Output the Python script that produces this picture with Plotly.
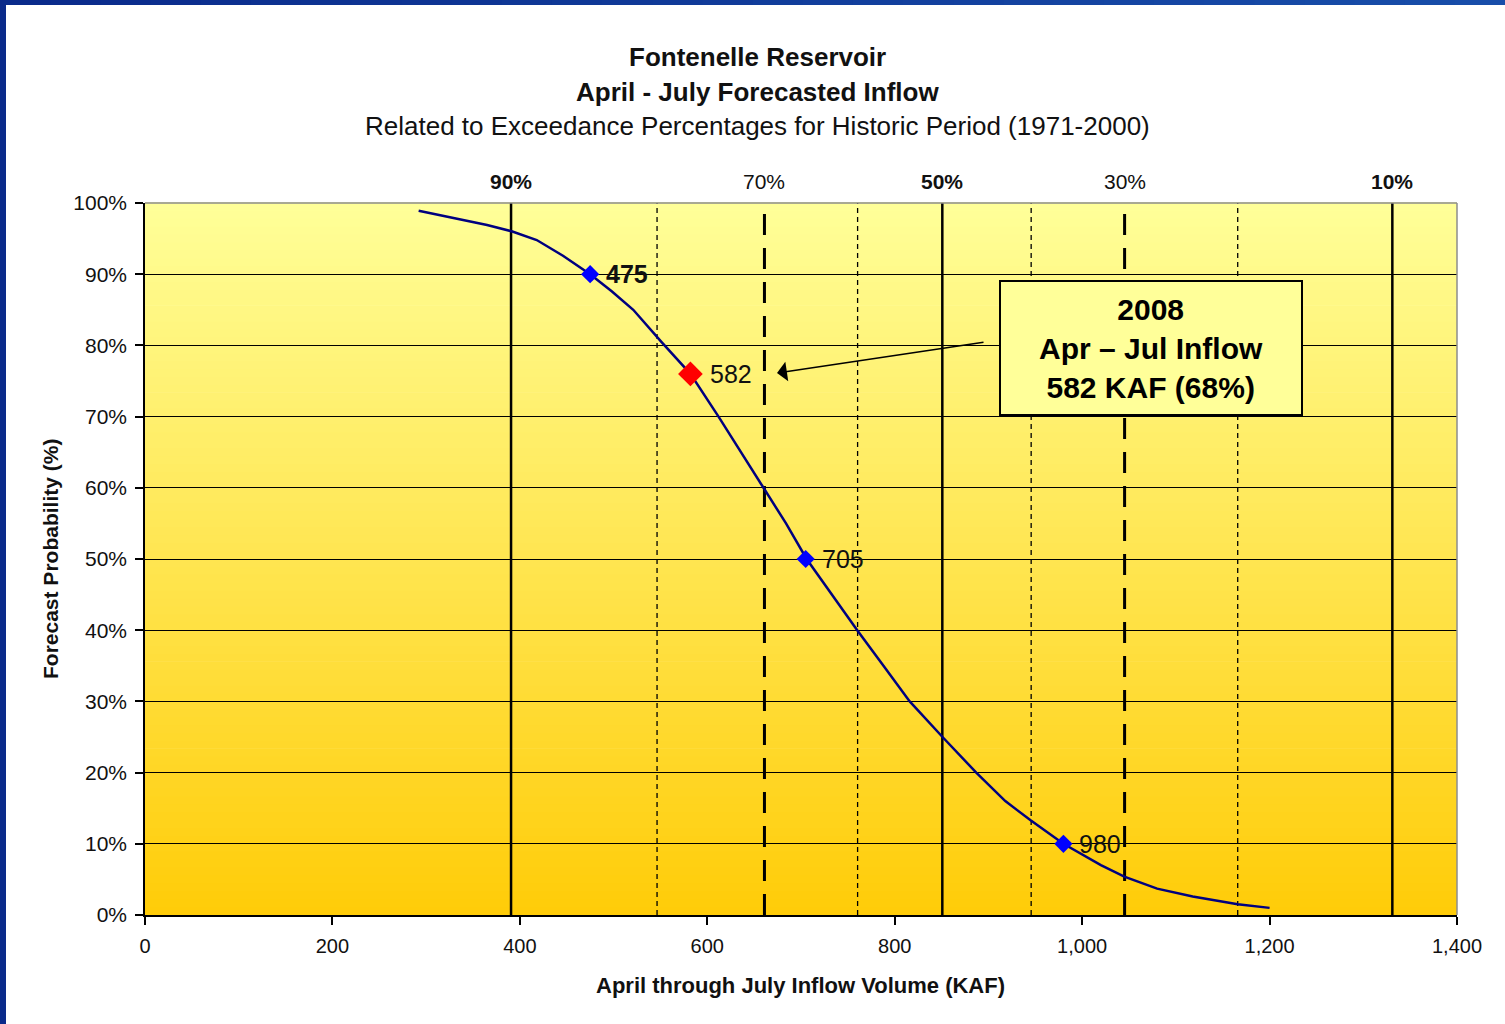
import plotly.graph_objects as go

# ---------------- data ----------------
curve_kaf = [292, 340, 365, 392, 418, 446, 475, 498, 521, 551, 582, 612, 636, 660, 684, 706,
             733, 760, 788, 816, 851, 887, 918, 945, 980, 1020, 1045, 1080, 1118, 1166, 1200]
curve_pct = [98.9, 97.6, 96.9, 96.0, 94.8, 92.6, 90, 87.6, 85.0, 80.5, 76, 70, 65, 60, 55, 50,
             45, 40, 35, 30, 25, 20, 16, 13.3, 10, 7.0, 5.4, 3.7, 2.6, 1.5, 1.0]

point_kaf = [475, 705, 980]
point_pct = [90, 50, 10]
point_lbl = ["<b>475</b>", "705", "980"]

current_kaf = [582]
current_pct = [76]
current_lbl = ["582"]

# historic exceedance levels (KAF) and their labels
exc_solid_kaf = [390.6, 850.8, 1331]
exc_solid_lbl = ["<b>90%</b>", "<b>50%</b>", "<b>10%</b>"]
exc_dash_kaf = [661, 1045.3]
exc_dash_lbl = ["70%", "30%"]
exc_dot_kaf = [546.4, 760.4, 945.6, 1166]

y_ticks = list(range(0, 101, 10))
y_tick_text = [f"{v}%" for v in y_ticks]
x_ticks = list(range(0, 1401, 200))

FONT = "Liberation Sans, Arial, sans-serif"

# plot-area geometry in page pixels (used only for placing decorations)
L, R, T, B = 145, 1457, 203, 915
PW, PH = R - L, B - T


def px_x(px):
    return (px - L) / PW


def px_y(py):
    return (B - py) / PH


fig = go.Figure()

# background gradient bands (below grid)
N = 90
top = (255, 255, 153)
bot = (255, 204, 8)
shapes = []
for i in range(N):
    t = (i + 0.5) / N
    c = tuple(round(bot[k] + (top[k] - bot[k]) * t) for k in range(3))
    shapes.append(dict(type="rect", xref="paper", yref="paper",
                       x0=0, x1=1, y0=i / N, y1=(i + 1) / N + 0.001,
                       fillcolor="rgb(%d,%d,%d)" % c, line=dict(width=0), layer="below"))

# gray top/right frame
shapes.append(dict(type="line", xref="paper", yref="paper", x0=0, x1=1, y0=1, y1=1,
                   line=dict(color="#8c8c8c", width=1.5), layer="above"))
shapes.append(dict(type="line", xref="paper", yref="paper", x0=1, x1=1, y0=0, y1=1,
                   line=dict(color="#8c8c8c", width=1.5), layer="above"))

# blue page border (top, with a left-to-right gradient, and left)
NB = 30
c0, c1 = (10, 42, 138), (24, 78, 170)
for i in range(NB):
    t = (i + 0.5) / NB
    c = tuple(round(c0[k] + (c1[k] - c0[k]) * t) for k in range(3))
    shapes.append(dict(type="rect", xref="paper", yref="paper",
                       x0=px_x(1505 * i / NB), x1=px_x(1505 * (i + 1) / NB + 1),
                       y0=px_y(5), y1=px_y(-20),
                       fillcolor="rgb(%d,%d,%d)" % c, line=dict(width=0), layer="above"))
shapes.append(dict(type="rect", xref="paper", yref="paper",
                   x0=px_x(-20), x1=px_x(6), y0=px_y(1100), y1=px_y(-20),
                   fillcolor="#0a2a8a", line=dict(width=0), layer="above"))

# vertical exceedance lines
for v in exc_solid_kaf:
    fig.add_trace(go.Scatter(x=[v, v], y=[0, 100], mode="lines",
                             line=dict(color="black", width=2.5), hoverinfo="skip", showlegend=False))
for v in exc_dash_kaf:
    fig.add_trace(go.Scatter(x=[v, v], y=[0, 100], mode="lines",
                             line=dict(color="black", width=3, dash="21px,13px"), hoverinfo="skip", showlegend=False))
for v in exc_dot_kaf:
    fig.add_trace(go.Scatter(x=[v, v], y=[0, 100], mode="lines",
                             line=dict(color="black", width=1.3, dash="5px,4px"), hoverinfo="skip", showlegend=False))

# forecast curve
fig.add_trace(go.Scatter(x=curve_kaf, y=curve_pct, mode="lines",
                         line=dict(color="#00007f", width=2.5), showlegend=False))
fig.add_trace(go.Scatter(x=point_kaf, y=point_pct, mode="markers",
                         marker=dict(symbol="diamond", size=14, color="#0000ff"), showlegend=False))
fig.add_trace(go.Scatter(x=current_kaf, y=current_pct, mode="markers",
                         marker=dict(symbol="diamond", size=19, color="#ff0000"), showlegend=False))

annotations = []
# point labels
for xv, yv, lb in zip(point_kaf, point_pct, point_lbl):
    annotations.append(dict(x=xv, y=yv, xref="x", yref="y", text=lb, showarrow=False,
                            xanchor="left", yanchor="middle", xshift=14,
                            font=dict(family=FONT, size=25, color="#111")))
for xv, yv, lb in zip(current_kaf, current_pct, current_lbl):
    annotations.append(dict(x=xv, y=yv, xref="x", yref="y", text=lb, showarrow=False,
                            xanchor="left", yanchor="middle", xshift=18,
                            font=dict(family=FONT, size=25, color="#111")))

# top exceedance labels
for v, l in zip(exc_solid_kaf + exc_dash_kaf, exc_solid_lbl + exc_dash_lbl):
    annotations.append(dict(x=v, y=px_y(182), xref="x", yref="paper", text=l,
                            showarrow=False, font=dict(family=FONT, size=21, color="#111"),
                            xanchor="center", yanchor="middle"))

# titles
for txt, ypx in [("<b>Fontenelle Reservoir</b>", 57),
                 ("<b>April - July Forecasted Inflow</b>", 92),
                 ("Related to Exceedance Percentages for Historic Period (1971-2000)", 126)]:
    annotations.append(dict(x=px_x(757), y=px_y(ypx), xref="paper", yref="paper",
                            text=txt, showarrow=False, font=dict(family=FONT, size=26, color="#111"),
                            xanchor="center", yanchor="middle"))

# axis titles
annotations.append(dict(x=px_x(800), y=px_y(985), xref="paper", yref="paper",
                        text="<b>April through July Inflow Volume (KAF)</b>", showarrow=False,
                        font=dict(family=FONT, size=22, color="#111"),
                        xanchor="center", yanchor="middle"))
annotations.append(dict(x=px_x(50), y=px_y(559), xref="paper", yref="paper",
                        text="<b>Forecast Probability (%)</b>", showarrow=False, textangle=-90,
                        font=dict(family=FONT, size=21, color="#111"),
                        xanchor="center", yanchor="middle"))

# callout box
annotations.append(dict(x=px_x(1151), y=px_y(348), xref="paper", yref="paper",
                        xanchor="center", yanchor="middle",
                        text="<b>2008<br>Apr – Jul Inflow<br>582 KAF (68%)</b>",
                        showarrow=False, font=dict(family=FONT, size=30, color="black"),
                        bgcolor="#ffff99", bordercolor="black", borderwidth=2,
                        width=298, height=130, align="center"))
# arrow
annotations.append(dict(x=px_x(777), y=px_y(373), ax=985 - 777, ay=342 - 373,
                        xref="paper", yref="paper", axref="pixel", ayref="pixel",
                        text="", showarrow=True,
                        arrowhead=1, arrowsize=2.2, arrowwidth=1.5, arrowcolor="black"))

fig.update_layout(
    width=1505, height=1024,
    margin=dict(l=L, r=1505 - R, t=T, b=1024 - B),
    paper_bgcolor="white", plot_bgcolor="rgba(0,0,0,0)",
    shapes=shapes, annotations=annotations,
    xaxis=dict(range=[0, 1400], tickvals=x_ticks, tickformat=",", showgrid=False,
               ticks="outside", ticklen=8, tickcolor="black", tickwidth=1.5,
               showline=True, linecolor="black", linewidth=1.5, zeroline=False,
               ticklabelstandoff=4,
               tickfont=dict(family=FONT, size=20, color="#111")),
    yaxis=dict(range=[0, 100], tickvals=y_ticks, ticktext=y_tick_text, showgrid=True,
               gridcolor="black", gridwidth=1, zeroline=False,
               ticks="outside", ticklen=8, tickcolor="black", tickwidth=1.5,
               showline=True, linecolor="black", linewidth=1.5,
               ticklabelstandoff=4,
               tickfont=dict(family=FONT, size=21, color="#111")),
)

fig.write_html("out.html", config={"displayModeBar": False},
               post_script="document.body.style.margin='0';document.body.style.padding='0';")
